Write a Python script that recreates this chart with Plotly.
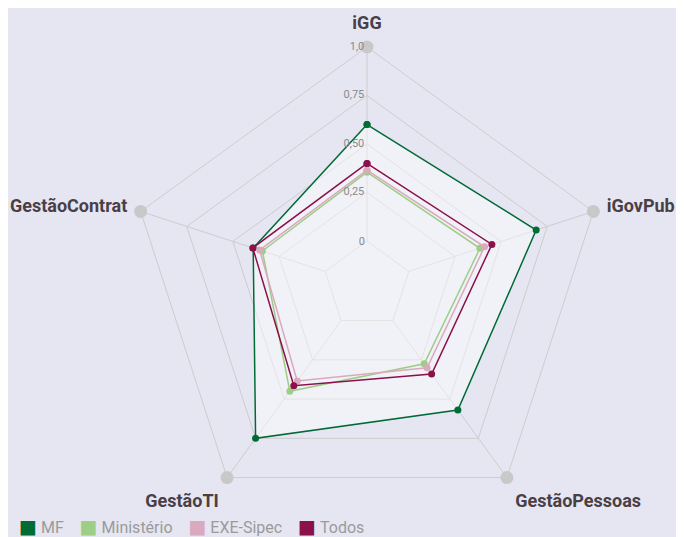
import plotly.graph_objects as go

categories = ["iGG", "iGovPub", "GestãoPessoas", "GestãoTI", "GestãoContrat"]
series_names = ["MF", "Ministério", "EXE-Sipec", "Todos"]
mf = [0.60, 0.69, 0.57, 0.75, 0.39]
ministerio = [0.355, 0.385, 0.275, 0.45, 0.34]
exe_sipec = [0.365, 0.41, 0.30, 0.385, 0.355]
todos = [0.40, 0.45, 0.34, 0.415, 0.392]
max_values = [1.0, 1.0, 1.0, 1.0, 1.0]
tick_vals = [0.0, 0.25, 0.5, 0.75, 1.0]
tick_text = ["0", "0,25", "0,50", "0,75", "1,0"]

colors = {"MF": "#006b35", "Ministério": "#9dce85", "EXE-Sipec": "#d9a9bd", "Todos": "#8c1049"}
values = {"MF": mf, "Ministério": ministerio, "EXE-Sipec": exe_sipec, "Todos": todos}

fig = go.Figure()

# spokes from the 0 ring to the outer ring
for cat in categories:
    fig.add_trace(go.Scatterpolar(
        r=[tick_vals[0], tick_vals[-1]], theta=[cat, cat], mode="lines",
        line=dict(color="#cccccc", width=1), showlegend=False, hoverinfo="skip"))

# outer indicator dots
fig.add_trace(go.Scatterpolar(
    r=max_values, theta=categories, mode="markers",
    marker=dict(size=13, color="#c8c8c8"), showlegend=False, hoverinfo="skip"))

for name in series_names:
    v = values[name]
    fill = "toself" if name == "MF" else "none"
    fig.add_trace(go.Scatterpolar(
        r=v + [v[0]], theta=categories + [categories[0]],
        mode="lines+markers", name=name,
        line=dict(color=colors[name], width=1.5),
        marker=dict(size=7, color=colors[name]),
        fill=fill, fillcolor="rgba(255,255,255,0.45)",
        showlegend=False))

# radial tick labels (non-zero ones), placed left of the top spoke
fig.add_trace(go.Scatterpolar(
    r=tick_vals[1:], theta=[categories[0]] * (len(tick_vals) - 1), mode="text",
    text=[t + "\u00a0" for t in tick_text[1:]], textposition="middle left",
    textfont=dict(size=11, color="#8a8a8a", family="Roboto, sans-serif"),
    cliponaxis=False, showlegend=False, hoverinfo="skip"))

# legend line built from the series names and colours
legend_text = "&nbsp;&nbsp;&nbsp;&nbsp;".join(
    f'<span style="color:{colors[n]};font-size:19px;font-family:DejaVu Sans">■</span>'
    f'&nbsp;<span style="color:#9a9a9a">{n}</span>' for n in series_names)
fig.add_annotation(text=legend_text, xref="paper", yref="paper", x=9 / 684, y=19 / 537,
                   xanchor="left", yanchor="middle", showarrow=False,
                   font=dict(size=16, color="#9a9a9a", family="Roboto, sans-serif"))

R = 238
cx, cy = 366 - 7, 537 - 284 + 7
hole = 0.185
rmin = -hole / (1 - hole)
fig.update_layout(
    width=684, height=537,
    paper_bgcolor="#e6e6f3", plot_bgcolor="#e6e6f3",
    margin=dict(l=0, r=0, t=0, b=0),
    font=dict(family="Roboto, sans-serif"),
    showlegend=False,
    polar=dict(
        domain=dict(x=[(cx - R) / 684, (cx + R) / 684], y=[(cy - R) / 537, (cy + R) / 537]),
        bgcolor="rgba(0,0,0,0)",
        gridshape="linear",
        radialaxis=dict(
            range=[rmin, 1], tickvals=tick_vals,
            ticktext=[tick_text[0]] + [""] * (len(tick_vals) - 1),
            showticklabels=True, tickangle=90, side="counterclockwise",
            tickfont=dict(size=11, color="#8a8a8a", family="Roboto, sans-serif"),
            angle=90, showline=False, ticks="", gridcolor="#cccccc", gridwidth=1,
        ),
        angularaxis=dict(
            direction="clockwise", rotation=90, showgrid=False,
            showline=True, linecolor="#cccccc",
            ticks="outside", ticklen=10, tickcolor="rgba(0,0,0,0)",
            tickfont=dict(size=18, color="#4a3f44", family="Roboto, sans-serif", weight="bold"),
        ),
    ),
)

fig.write_html("out.html")
